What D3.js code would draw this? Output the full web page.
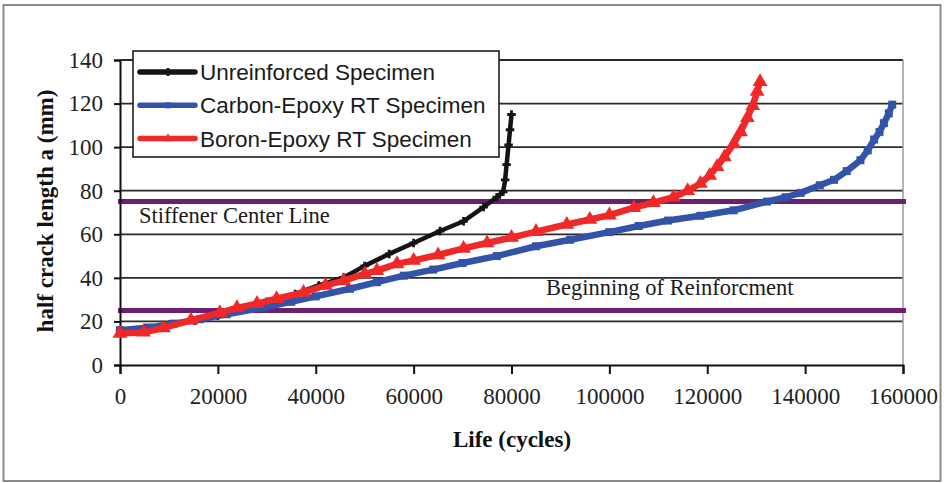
<!DOCTYPE html>
<html>
<head>
<meta charset="utf-8">
<script src="https://cdn.jsdelivr.net/npm/d3@7/dist/d3.min.js"></script>
<style>
    body { margin: 0; background: #fff; }
    svg { display: block; }
</style>
</head>
<body>
<div id="chart"></div>
<script>
// Crack growth data, [life (cycles), half crack length (mm)]
const unreinforced = [
    [0, 16], [5000, 17], [10200, 18.6], [15300, 20.3], [20000, 22.6], [25200, 25.5],
    [30000, 29], [35800, 32.6], [40600, 36.5], [45700, 40.2], [50000, 45.5],
    [55000, 51], [60000, 56], [65400, 61.5], [70200, 66], [74300, 72.5],
    [77000, 77], [78300, 79.5], [78700, 85], [79000, 92], [79400, 101],
    [79700, 108], [80000, 115]
];
const carbonEpoxy = [
    [0, 16], [6000, 17.2], [11000, 19], [16400, 21], [21800, 23.3], [29300, 26.4],
    [35000, 29], [40000, 31.5], [47000, 35], [52500, 38], [58000, 41], [64000, 43.8],
    [70000, 46.8], [77000, 50], [85000, 54.5], [92000, 57.5], [100000, 61],
    [106000, 63.8], [112000, 66.3], [118600, 68.5], [125400, 71], [132200, 75],
    [136000, 77], [139100, 79], [143000, 82.5], [145900, 85], [148500, 89],
    [151300, 94], [152800, 98.5], [154100, 103.5], [155200, 107], [156100, 111],
    [157100, 115.5], [157800, 119.5]
];
const boronEpoxy = [
    [0, 14.5], [4800, 15], [8900, 17], [14500, 20.5], [20400, 24], [23900, 26.2],
    [28000, 28.2], [32000, 30.4], [37500, 33.3], [42000, 36.5], [45700, 38.7],
    [50000, 41.8], [52500, 43.3], [56600, 46.4], [60000, 48], [65000, 50.5],
    [70200, 53.5], [75000, 56], [80000, 58.5], [85000, 61.2], [91300, 64.5],
    [96000, 66.8], [100000, 68.8], [105000, 72.2], [109000, 74.5], [113100, 77],
    [116000, 80], [118600, 83.3], [120500, 87], [122000, 91], [123500, 95.5],
    [125400, 101.5], [126800, 107], [128200, 113.5], [129300, 119],
    [130200, 125.5], [130800, 130]
];

const seriesNames = ['Unreinforced Specimen', 'Carbon-Epoxy RT Specimen', 'Boron-Epoxy RT Specimen'];
const seriesColors = ['#141414', '#3353a8', '#f02828'];
const xTicks = [0, 20000, 40000, 60000, 80000, 100000, 120000, 140000, 160000];
const yTicks = [0, 20, 40, 60, 80, 100, 120, 140];

// Horizontal reference lines
const refLines = [75, 25];
const refLabels = ['Stiffener Center Line', 'Beginning of Reinforcment'];

const width = 946;
const height = 483;
const serif = '"Liberation Serif", "Times New Roman", serif';
const sans = '"Liberation Sans", Arial, sans-serif';

const svg = d3.select('#chart')
    .append('svg')
    .attr('width', width)
    .attr('height', height);

// Outer chart frame
svg.append('rect')
    .attr('x', 3.5).attr('y', 5)
    .attr('width', 937).attr('height', 476)
    .attr('fill', '#fff')
    .attr('stroke', '#8a8a8a')
    .attr('stroke-width', 2);

// Scales
const x = d3.scaleLinear().domain([0, 160000]).range([120, 903]);
const y = d3.scaleLinear().domain([0, 140]).range([365, 60]);

// Gridlines
svg.append('g')
    .selectAll('line')
    .data(yTicks.filter(d => d > 0))
    .enter().append('line')
    .attr('x1', x(0)).attr('x2', x(160000))
    .attr('y1', d => y(d)).attr('y2', d => y(d))
    .attr('stroke', '#2b2b2b')
    .attr('stroke-width', 1.8);

// Right edge of plot area
svg.append('line')
    .attr('x1', x(160000)).attr('x2', x(160000))
    .attr('y1', y(140)).attr('y2', y(0))
    .attr('stroke', '#9a9a9a')
    .attr('stroke-width', 1.5);

// Reference lines and labels
svg.append('g')
    .selectAll('line')
    .data(refLines)
    .enter().append('line')
    .attr('x1', x(0) - 2).attr('x2', x(160000) + 3)
    .attr('y1', d => y(d)).attr('y2', d => y(d))
    .attr('stroke', '#6c1f70')
    .attr('stroke-width', 5);

svg.append('text')
    .attr('x', 139).attr('y', 223)
    .attr('font-family', serif)
    .attr('font-size', '22.5px')
    .attr('fill', '#1a1a1a')
    .text(refLabels[0]);

svg.append('text')
    .attr('x', 546).attr('y', 295)
    .attr('font-family', serif)
    .attr('font-size', '22.5px')
    .attr('fill', '#1a1a1a')
    .text(refLabels[1]);

// Axes
const xAxis = svg.append('g')
    .attr('transform', `translate(0,${y(0)})`)
    .call(d3.axisBottom(x).tickValues(xTicks).tickFormat(d3.format('d')).tickSize(9).tickPadding(14));

const yAxis = svg.append('g')
    .attr('transform', `translate(${x(0)},0)`)
    .call(d3.axisLeft(y).tickValues(yTicks).tickSize(6).tickPadding(11));

[xAxis, yAxis].forEach(axis => {
    axis.select('.domain').attr('stroke', '#111').attr('stroke-width', 2);
    axis.selectAll('.tick line').attr('stroke', '#111').attr('stroke-width', 2);
    axis.selectAll('.tick text')
        .attr('font-family', serif)
        .attr('font-size', '23px')
        .attr('fill', '#222');
});

// Axis titles
svg.append('text')
    .attr('x', 512).attr('y', 447)
    .attr('text-anchor', 'middle')
    .attr('font-family', serif)
    .attr('font-weight', 'bold')
    .attr('font-size', '23px')
    .attr('fill', '#111')
    .text('Life (cycles)');

svg.append('text')
    .attr('transform', 'translate(53,211) rotate(-90)')
    .attr('text-anchor', 'middle')
    .attr('font-family', serif)
    .attr('font-weight', 'bold')
    .attr('font-size', '23px')
    .attr('fill', '#111')
    .text('half crack length a (mm)');

// Series
const allSeries = [unreinforced, carbonEpoxy, boronEpoxy];
const symbols = [
    d3.symbol().type(d3.symbolCross).size(40),
    d3.symbol().type(d3.symbolSquare).size(64),
    d3.symbol().type(d3.symbolTriangle).size(95)
];
const lineWidths = [4.5, 6.5, 6.5];

const line = d3.line()
    .x(d => x(d[0]))
    .y(d => y(d[1]));

allSeries.forEach((data, i) => {
    const g = svg.append('g');
    g.append('path')
        .datum(data)
        .attr('d', line)
        .attr('fill', 'none')
        .attr('stroke', seriesColors[i])
        .attr('stroke-width', lineWidths[i])
        .attr('stroke-linejoin', 'round');
    g.selectAll('path.marker')
        .data(data)
        .enter().append('path')
        .attr('class', 'marker')
        .attr('d', symbols[i])
        .attr('transform', d => `translate(${x(d[0])},${y(d[1])})`)
        .attr('fill', seriesColors[i]);
});

// Legend
const legend = svg.append('g');
legend.append('rect')
    .attr('x', 133).attr('y', 51)
    .attr('width', 366).attr('height', 106)
    .attr('fill', '#fff')
    .attr('stroke', '#111')
    .attr('stroke-width', 1.5);

const legendRows = legend.selectAll('g')
    .data(seriesNames)
    .enter().append('g')
    .attr('transform', (d, i) => `translate(0,${72 + i * 33.3})`);

legendRows.append('line')
    .attr('x1', 140).attr('x2', 195)
    .attr('y1', 0).attr('y2', 0)
    .attr('stroke', (d, i) => seriesColors[i])
    .attr('stroke-width', 5.5)
    .attr('stroke-linecap', 'round');

legendRows.append('path')
    .attr('d', (d, i) => symbols[i].size(36)())
    .attr('transform', 'translate(168,0)')
    .attr('fill', (d, i) => seriesColors[i]);

legendRows.append('text')
    .attr('x', 200).attr('y', 8)
    .attr('font-family', sans)
    .attr('font-size', '22.5px')
    .attr('fill', '#1a1a1a')
    .text(d => d);
</script>
</body>
</html>
